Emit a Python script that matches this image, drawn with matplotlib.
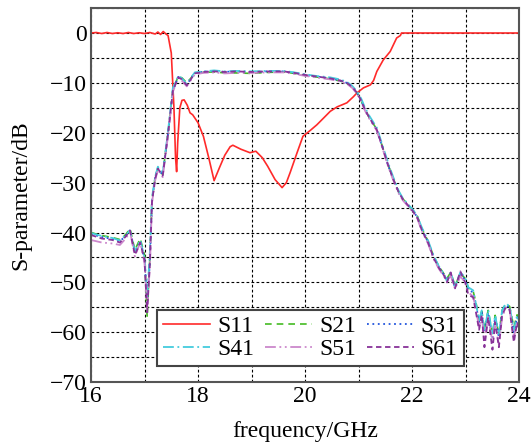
import matplotlib
matplotlib.use("Agg")
import matplotlib.pyplot as plt
from matplotlib.ticker import MultipleLocator

plt.rcParams['font.family'] = ['Liberation Serif', 'DejaVu Serif']
plt.rcParams['font.size'] = 17

# S11 (reflection)
f_s11 = [16.0, 16.1, 16.2, 16.3, 16.4, 16.5, 16.6, 16.7, 16.8, 16.9, 17.0, 17.1, 17.2,
         17.25, 17.3, 17.35, 17.4, 17.44, 17.5, 17.55, 17.58, 17.6, 17.62, 17.66, 17.7,
         17.74, 17.8, 17.85, 17.9, 18.0, 18.1, 18.2, 18.3, 18.4, 18.5, 18.6, 18.65, 18.8,
         18.97, 19.08, 19.2, 19.3, 19.44, 19.57, 19.65, 19.72, 19.85, 19.96, 20.1, 20.22,
         20.35, 20.47, 20.6, 20.78, 20.9, 20.97, 21.09, 21.22, 21.28, 21.34, 21.46, 21.59,
         21.71, 21.78, 21.8, 24.0]
s11 = [0.0, 0.1, -0.1, 0.1, -0.1, 0.05, -0.1, 0.1, -0.1, 0.05, -0.1, 0.1, -0.2,
       0.2, -0.3, 0.3, -0.2, -0.5, -4, -15, -25, -27.8, -22, -15, -13.5,
       -13.4, -14.5, -16, -16.4, -18, -20.7, -25, -29.6, -27, -24.5, -22.8, -22.5, -23.3,
       -24, -23.7, -25, -26.7, -29.4, -31, -30, -28, -24, -20.7, -19.5, -18.4,
       -17, -15.7, -14.8, -14, -12.8, -12, -11, -10.4, -9.5, -7.7, -5.4, -3.7,
       -1, -0.5, 0.0, 0.0]

# transmission curves share one frequency grid
f_t = [16.0, 16.2, 16.4, 16.54, 16.65, 16.73, 16.82, 16.92, 17.0, 17.05, 17.1, 17.14,
       17.2, 17.25, 17.34, 17.44, 17.53, 17.63, 17.7, 17.79, 17.87, 17.94, 18.1, 18.3,
       18.5, 18.7, 19.0, 19.3, 19.6, 19.8, 20.0, 20.2, 20.47, 20.65, 20.78, 20.88, 20.97,
       21.05, 21.12, 21.2, 21.34, 21.46, 21.55, 21.65, 21.75, 21.83, 21.92, 22.02, 22.1,
       22.18, 22.3, 22.4, 22.5, 22.6, 22.65, 22.72, 22.8, 22.9, 22.99, 23.05, 23.14, 23.2,
       23.25, 23.3, 23.35, 23.42, 23.5, 23.55, 23.62, 23.68, 23.75, 23.82, 23.9, 23.96, 24.0]
s21 = [-40.0, -40.6, -41.0, -41.4, -40.4, -39.2, -43.5, -41.2, -44.5, -57.0, -45, -33.4,
       -29, -27, -28.4, -20, -11.4, -8.7, -9.0, -10.0, -9.0, -8.0, -7.9, -7.8,
       -8.0, -8.0, -8.1, -7.9, -7.8, -8.1, -8.5, -8.8, -9.2, -9.6, -10.1, -10.9, -12.0,
       -13.6, -15.3, -17.0, -19.3, -23.3, -26.4, -29.3, -31.9, -33.3, -34.4, -35.6, -36.8,
       -39.2, -41.8, -44.8, -46.8, -48.4, -49.2, -48.0, -50.7, -48.2, -49.2, -51.2, -51.8, -54.5,
       -57.5, -55.8, -59.5, -55.6, -60.5, -56.6, -60.5, -55.6, -54.3, -54.8, -59.0, -56.5, -57.5]
s31 = [-40.3, -40.9, -41.3, -41.8, -40.6, -39.5, -44.0, -41.8, -45.2, -54.0, -46, -33.6,
       -29, -27.1, -28.5, -20.1, -11.5, -8.8, -9.2, -10.4, -9.1, -8.0, -7.8, -7.6,
       -7.8, -7.7, -7.8, -7.7, -7.7, -8.0, -8.4, -8.7, -9.1, -9.5, -10.0, -10.8, -12.0,
       -13.6, -15.4, -17.0, -19.4, -23.4, -26.5, -29.4, -32.0, -33.4, -34.5, -35.7, -37.0,
       -39.4, -42.0, -45.0, -47.0, -48.6, -49.6, -48.3, -51.0, -48.4, -49.5, -51.5, -52.0, -55.0,
       -58.0, -56.0, -60.0, -56.0, -61.0, -57.0, -61.0, -56.0, -54.6, -55.0, -60.0, -57.0, -58.0]
s41 = [-40.1, -40.7, -41.1, -41.6, -40.5, -39.6, -43.8, -41.5, -45.0, -53.0, -44, -33.0,
       -28.8, -26.8, -28.2, -19.6, -11.0, -8.6, -9.1, -10.3, -8.9, -7.9, -7.7, -7.5,
       -7.7, -7.6, -7.7, -7.6, -7.6, -7.9, -8.3, -8.6, -8.9, -9.3, -9.8, -10.6, -11.7,
       -13.2, -15.0, -16.6, -19.0, -23.0, -26.0, -29.0, -31.7, -33.2, -34.3, -35.5, -36.8,
       -39.0, -41.7, -44.6, -46.8, -48.4, -49.8, -48.0, -50.8, -48.0, -49.0, -51.0, -51.6, -54.8,
       -57.6, -55.6, -59.8, -55.5, -60.5, -56.6, -60.6, -55.6, -54.2, -54.8, -59.6, -56.6, -57.8]
s51 = [-41.5, -42.0, -42.2, -42.5, -41.2, -39.8, -44.8, -42.0, -46.0, -55.0, -47, -34.0,
       -29.5, -27.4, -28.9, -20.5, -11.8, -9.0, -9.6, -10.7, -9.4, -8.3, -8.0, -7.9,
       -8.1, -8.0, -8.0, -7.9, -7.9, -8.2, -8.6, -8.9, -9.3, -9.7, -10.2, -11.0, -12.2,
       -13.8, -15.6, -17.2, -19.6, -23.6, -26.7, -29.6, -32.2, -33.6, -34.7, -36.0, -37.3,
       -39.7, -42.3, -45.3, -47.3, -48.9, -49.9, -48.6, -51.3, -48.8, -50.0, -52.0, -52.8, -56.0,
       -59.0, -57.0, -61.5, -57.0, -62.0, -58.0, -62.5, -57.0, -55.0, -55.5, -61.0, -58.0, -59.0]
s61 = [-40.5, -41.2, -41.5, -42.0, -40.8, -39.6, -44.5, -42.0, -45.5, -56.0, -46, -33.8,
       -29.2, -27.2, -28.6, -20.2, -11.6, -8.9, -9.3, -10.5, -9.2, -8.1, -7.8, -7.7,
       -7.8, -7.7, -7.8, -7.7, -7.7, -8.0, -8.4, -8.7, -9.1, -9.5, -10.0, -10.8, -12.0,
       -13.6, -15.4, -17.0, -19.4, -23.4, -26.5, -29.4, -32.0, -33.4, -34.5, -35.8, -37.1,
       -39.5, -42.1, -45.1, -47.1, -48.7, -50.0, -48.0, -51.2, -47.8, -50.0, -52.5, -53.0, -56.5,
       -59.5, -56.5, -63.0, -57.0, -63.5, -58.0, -63.0, -56.5, -55.0, -55.5, -62.0, -58.0, -59.5]

fig = plt.figure(figsize=(5.32, 4.48), dpi=100)
ax = fig.add_axes([0.171, 0.147, 0.805, 0.835])

l11, = ax.plot(f_s11, s11, color='#ff2a2a', lw=1.2, label='S11')
l21, = ax.plot(f_t, s21, color='#44bb22', lw=1.2, ls=(0, (4, 3)), label='S21')
l31, = ax.plot(f_t, s31, color='#2255dd', lw=1.3, ls=(0, (1, 2)), label='S31')
l41, = ax.plot(f_t, s41, color='#44ccdd', lw=1.3, ls=(0, (6, 2, 1, 2)), label='S41')
l51, = ax.plot(f_t, s51, color='#cc88cc', lw=1.3, ls=(0, (6, 2, 1, 2, 1, 2)), label='S51')
l61, = ax.plot(f_t, s61, color='#883399', lw=1.3, ls=(0, (3, 2)), label='S61')

ax.set_xlim(16, 24)
ax.set_ylim(-70, 5)
ax.xaxis.set_major_locator(MultipleLocator(2))
ax.xaxis.set_minor_locator(MultipleLocator(1))
ax.yaxis.set_major_locator(MultipleLocator(10))
ax.yaxis.set_minor_locator(MultipleLocator(5))
ax.tick_params(which='both', length=0, pad=3)
ax.grid(which='both', color='black', ls=(0, (2.5, 2)), lw=0.8)
for sp in ax.spines.values():
    sp.set_color('#555555')
    sp.set_linewidth(1.5)

ax.set_xlabel('frequency/GHz', labelpad=10)
ax.set_ylabel('S-parameter/dB', labelpad=13)

# legend fills column by column, so order handles to read row-wise
handles = [l11, l41, l21, l51, l31, l61]
leg = ax.legend(handles=handles, labels=[h.get_label() for h in handles],
                ncol=3, loc='lower center', bbox_to_anchor=(0.512, 0.043),
                borderaxespad=0, frameon=True, fancybox=False, fontsize=17,
                handlelength=2.0, columnspacing=0.45, handletextpad=0.3,
                labelspacing=0.05, borderpad=0.25)
leg.get_frame().set_edgecolor('#444444')
leg.get_frame().set_linewidth(1.5)
leg.get_frame().set_alpha(1)

fig.savefig('out.png', dpi=100)
